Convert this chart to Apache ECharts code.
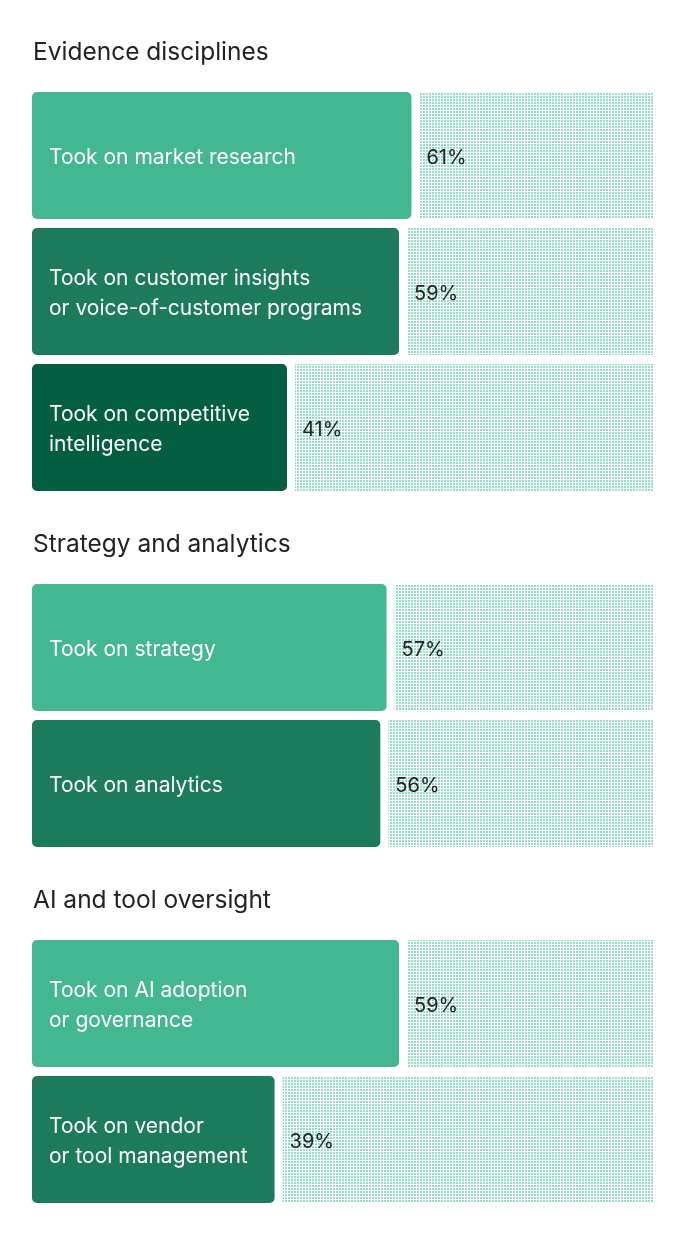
<!DOCTYPE html>
<html>
<head>
<meta charset="utf-8">
<script src="https://cdn.jsdelivr.net/npm/echarts@6/dist/echarts.min.js"></script>
<style>
html,body{margin:0;padding:0;background:#fff;}
#chart{width:686px;height:1237px;}
</style>
</head>
<body>
<div id="chart"></div>
<script>
// ---- data ----
const sectionTitles = ['Evidence disciplines', 'Strategy and analytics', 'AI and tool oversight'];
const evidenceCategories = ['Took on market research', 'Took on customer insights\nor voice-of-customer programs', 'Took on competitive\nintelligence'];
const evidenceValues = [61, 59, 41];
const strategyCategories = ['Took on strategy', 'Took on analytics'];
const strategyValues = [57, 56];
const aiCategories = ['Took on AI adoption\nor governance', 'Took on vendor\nor tool management'];
const aiValues = [59, 39];

// ---- styles ----
const FONT = 'Inter, "Noto Sans", sans-serif';
const barColors = ['#43b692', '#1d7b5d', '#045e42'];
const BAR_H = 127;
const BAND = 136;
const GAP = 8;

function makePattern() {
  const c = document.createElement('canvas');
  c.width = 3; c.height = 3;
  const ctx = c.getContext('2d');
  ctx.fillStyle = '#93dfc1';
  ctx.fillRect(0, 0, 2, 2);
  return c;
}
const patternCanvas = makePattern();

const sections = [
  { cats: evidenceCategories, vals: evidenceValues, top: 92 - (BAND - BAR_H) / 2, titleTop: 40 },
  { cats: strategyCategories, vals: strategyValues, top: 584 - (BAND - BAR_H) / 2, titleTop: 532 },
  { cats: aiCategories, vals: aiValues, top: 940 - (BAND - BAR_H) / 2, titleTop: 888 }
];

const grid = [], xAxis = [], yAxis = [], series = [], title = [];
sections.forEach((s, i) => {
  title.push({ text: sectionTitles[i], left: 33, top: s.titleTop, padding: 0,
    textStyle: { fontFamily: FONT, fontSize: 24.5, fontWeight: 'normal', color: '#222' } });
  grid.push({ left: 32, right: 32, top: s.top, height: BAND * s.cats.length });
  xAxis.push({ gridIndex: i, type: 'value', min: 0, max: 100, show: false });
  yAxis.push({ gridIndex: i, type: 'category', data: s.cats, inverse: true, show: false });
  series.push({
    type: 'bar', xAxisIndex: i, yAxisIndex: i, barWidth: BAR_H, silent: true,
    data: s.vals.map((v, k) => ({ value: v, itemStyle: { color: barColors[k], borderRadius: 5 } })),
    label: {
      show: true, position: 'insideLeft', distance: 17, offset: [0, 2],
      formatter: p => s.cats[p.dataIndex],
      color: '#fff', fontFamily: FONT, fontSize: 21, lineHeight: 30
    }
  });
  series.push({
    type: 'custom', xAxisIndex: i, yAxisIndex: i, silent: true,
    data: s.vals.map((v, k) => [v, k]),
    encode: { x: 0, y: 1 },
    renderItem: function (params, api) {
      const v = api.value(0), k = api.value(1);
      const start = api.coord([v, k]);
      const end = api.coord([100, k]);
      const x0 = start[0] + GAP;
      return {
        type: 'group',
        children: [
          { type: 'rect', shape: { x: x0, y: start[1] - BAR_H / 2, width: end[0] - x0, height: BAR_H },
            style: { fill: { image: patternCanvas, repeat: 'repeat' } } },
          { type: 'text', x: x0 + 7, y: start[1] + 2,
            style: { text: v + '%', fill: '#222', font: '20px ' + FONT, verticalAlign: 'middle', align: 'left' } }
        ]
      };
    }
  });
});

const chart = echarts.init(document.getElementById('chart'));
chart.setOption({ animation: false, backgroundColor: '#fff', title, grid, xAxis, yAxis, series });
</script>
</body>
</html>
